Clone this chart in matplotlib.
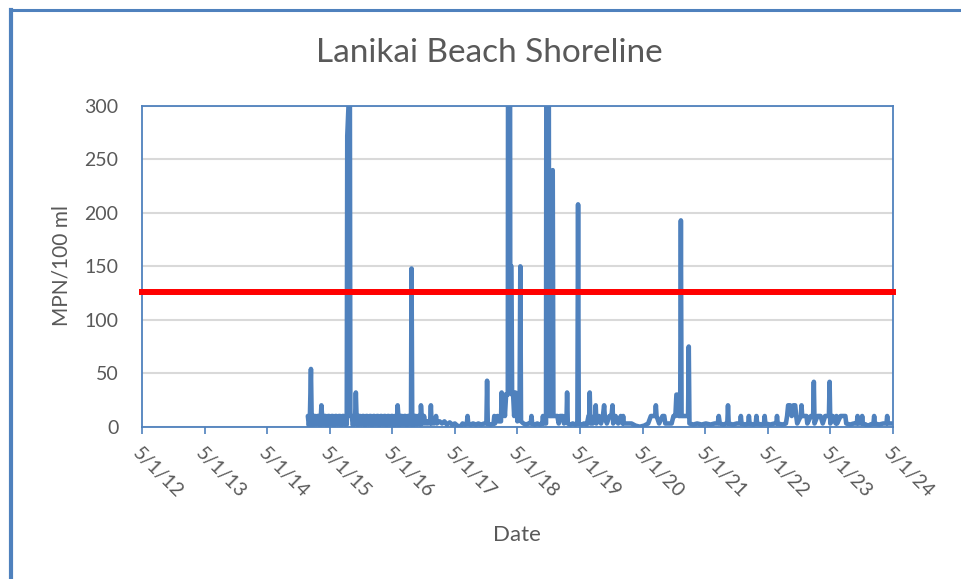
import matplotlib
matplotlib.use("Agg")
import matplotlib.pyplot as plt
import pandas as pd
from matplotlib.lines import Line2D

plt.rcParams['font.family'] = ['Lato', 'DejaVu Sans']

title = "Lanikai Beach Shoreline"
x_label = "Date"
y_label = "MPN/100 ml"
threshold = 126

tick_dates = ["2012-05-01", "2013-05-01", "2014-05-01", "2015-05-01", "2016-05-01",
              "2017-05-01", "2018-05-01", "2019-05-01", "2020-05-01", "2021-05-01",
              "2022-05-01", "2023-05-01", "2024-05-01"]
tick_labels = ["5/1/12", "5/1/13", "5/1/14", "5/1/15", "5/1/16", "5/1/17", "5/1/18",
               "5/1/19", "5/1/20", "5/1/21", "5/1/22", "5/1/23", "5/1/24"]
y_ticks = [0, 50, 100, 150, 200, 250, 300]

dates_2015 = ["2014-12-25", "2014-12-31", "2015-01-06", "2015-01-12", "2015-01-16", "2015-01-22",
              "2015-01-29", "2015-02-05", "2015-02-12", "2015-02-19", "2015-02-26", "2015-03-05",
              "2015-03-11", "2015-03-14", "2015-03-18", "2015-03-25", "2015-04-01", "2015-04-08",
              "2015-04-15", "2015-04-22", "2015-04-29", "2015-05-06", "2015-05-13", "2015-05-20",
              "2015-05-27", "2015-06-03", "2015-06-10", "2015-06-17", "2015-06-24", "2015-07-01",
              "2015-07-08", "2015-07-15", "2015-07-22", "2015-07-29", "2015-08-05", "2015-08-09",
              "2015-08-12", "2015-08-27", "2015-08-30", "2015-09-07", "2015-09-14", "2015-09-21",
              "2015-09-27", "2015-10-01", "2015-10-05", "2015-10-12", "2015-10-19", "2015-10-26",
              "2015-11-02", "2015-11-09", "2015-11-16", "2015-11-23", "2015-11-30", "2015-12-07",
              "2015-12-14", "2015-12-21", "2015-12-28"]
values_2015 = [10, 1, 10, 54, 10, 1,
               10, 10, 2, 10, 10, 1,
               10, 20, 10, 2, 10, 10,
               1, 10, 10, 2, 10, 10,
               1, 10, 10, 2, 10, 10,
               1, 10, 10, 2, 10, 2,
               272, 330, 10, 10, 1, 10,
               10, 32, 10, 1, 10, 10,
               2, 10, 10, 1, 10, 10,
               2, 10, 10]

dates_2016 = ["2016-01-04", "2016-01-11", "2016-01-18", "2016-01-25", "2016-02-01", "2016-02-08",
              "2016-02-15", "2016-02-22", "2016-02-29", "2016-03-07", "2016-03-14", "2016-03-21",
              "2016-03-28", "2016-04-04", "2016-04-11", "2016-04-18", "2016-04-25", "2016-05-02",
              "2016-05-09", "2016-05-16", "2016-05-23", "2016-05-28", "2016-06-01", "2016-06-05",
              "2016-06-12", "2016-06-19", "2016-06-26", "2016-07-03", "2016-07-10", "2016-07-17",
              "2016-07-24", "2016-07-31", "2016-08-07", "2016-08-14", "2016-08-18", "2016-08-21",
              "2016-08-25", "2016-09-01", "2016-09-08", "2016-09-15", "2016-09-22", "2016-09-29",
              "2016-10-06", "2016-10-12", "2016-10-15", "2016-10-19", "2016-10-26", "2016-11-02",
              "2016-11-09", "2016-11-16", "2016-11-23", "2016-11-30", "2016-12-07", "2016-12-12",
              "2016-12-16", "2016-12-23", "2016-12-30"]
values_2016 = [1, 10, 10, 2, 10, 10,
               1, 10, 10, 2, 10, 10,
               1, 10, 10, 2, 10, 10,
               1, 10, 10, 2, 20, 10,
               1, 10, 10, 2, 10, 10,
               1, 10, 10, 2, 10, 148,
               10, 1, 10, 10, 2, 10,
               10, 2, 20, 10, 3, 10,
               3, 5, 3, 5, 3, 20,
               3, 5, 3]

dates_2017 = ["2017-01-06", "2017-01-11", "2017-01-16", "2017-02-01", "2017-02-15", "2017-03-01",
              "2017-03-15", "2017-04-01", "2017-04-15", "2017-05-01", "2017-05-15", "2017-06-02",
              "2017-06-15", "2017-07-01", "2017-07-10", "2017-07-14", "2017-07-18", "2017-08-01",
              "2017-08-15", "2017-09-01", "2017-09-15", "2017-10-01", "2017-10-20", "2017-11-01",
              "2017-11-05", "2017-11-09", "2017-11-25", "2017-12-13", "2017-12-17", "2017-12-21"]
values_2017 = [5, 10, 3, 5, 3, 5,
               2, 4, 2, 3, 1, 0,
               3, 2, 3, 10, 3, 2,
               3, 2, 3, 2, 3, 3,
               43, 3, 2, 3, 10, 3]

dates_2018 = ["2018-01-05", "2018-01-12", "2018-01-25", "2018-01-29", "2018-02-03", "2018-02-10",
              "2018-02-17", "2018-02-24", "2018-03-03", "2018-03-06", "2018-03-10", "2018-03-16",
              "2018-03-20", "2018-03-27", "2018-03-31", "2018-04-06", "2018-04-12", "2018-04-19",
              "2018-04-24", "2018-05-01", "2018-05-10", "2018-05-14", "2018-05-18", "2018-05-22",
              "2018-06-05", "2018-06-20", "2018-07-05", "2018-07-18", "2018-07-22", "2018-07-26",
              "2018-08-10", "2018-08-25", "2018-09-10", "2018-09-23", "2018-09-27", "2018-10-01",
              "2018-10-15", "2018-10-20", "2018-10-28", "2018-11-02", "2018-11-12", "2018-11-20",
              "2018-11-23", "2018-11-27", "2018-12-05", "2018-12-12", "2018-12-20", "2018-12-28"]
values_2018 = [10, 5, 5, 32, 10, 30,
               10, 30, 30, 30, 900, 900,
               150, 150, 30, 30, 10, 32,
               30, 5, 30, 30, 150, 5,
               3, 2, 3, 3, 10, 3,
               2, 3, 2, 3, 10, 3,
               3, 900, 900, 10, 10, 10,
               240, 10, 10, 10, 10, 3]

dates_2019 = ["2019-01-05", "2019-01-12", "2019-01-20", "2019-01-28", "2019-02-08", "2019-02-12",
              "2019-02-15", "2019-02-19", "2019-03-05", "2019-03-20", "2019-04-05", "2019-04-16",
              "2019-04-20", "2019-04-24", "2019-05-10", "2019-05-25", "2019-06-10", "2019-06-20",
              "2019-06-24", "2019-06-27", "2019-07-01", "2019-07-15", "2019-07-25", "2019-07-29",
              "2019-08-01", "2019-08-05", "2019-08-20", "2019-09-01", "2019-09-12", "2019-09-19",
              "2019-09-23", "2019-10-05", "2019-10-20", "2019-11-01", "2019-11-07", "2019-11-11",
              "2019-11-25", "2019-12-10", "2019-12-25"]
values_2019 = [10, 10, 10, 3, 10, 10,
               32, 3, 2, 3, 2, 3,
               208, 3, 2, 3, 2, 10,
               10, 32, 3, 3, 10, 10,
               20, 3, 10, 3, 10, 20,
               10, 3, 10, 10, 20, 3,
               10, 3, 10]

dates_2020 = ["2020-01-04", "2020-01-08", "2020-01-12", "2020-02-01", "2020-02-26", "2020-03-20",
              "2020-04-14", "2020-05-10", "2020-06-02", "2020-06-18", "2020-06-22", "2020-07-13",
              "2020-07-17", "2020-07-21", "2020-08-05", "2020-08-25", "2020-09-04", "2020-09-10",
              "2020-10-01", "2020-10-17", "2020-10-28", "2020-11-08", "2020-11-14", "2020-11-20",
              "2020-11-28", "2020-12-06", "2020-12-10", "2020-12-14", "2020-12-28"]
values_2020 = [3, 10, 3, 3, 3, 1,
               0, 1, 3, 10, 10, 10,
               20, 10, 3, 10, 10, 3,
               3, 3, 10, 10, 30, 30,
               10, 10, 193, 10, 10]

dates_2021 = ["2021-01-10", "2021-01-21", "2021-01-25", "2021-01-29", "2021-02-20", "2021-03-15",
              "2021-04-10", "2021-05-05", "2021-06-01", "2021-06-25", "2021-07-13", "2021-07-19",
              "2021-07-25", "2021-08-15", "2021-09-01", "2021-09-07", "2021-09-11", "2021-09-15",
              "2021-10-10", "2021-11-01", "2021-11-21", "2021-11-25", "2021-11-29", "2021-12-20"]
values_2021 = [10, 10, 75, 3, 2, 3,
               2, 3, 2, 3, 3, 10,
               3, 2, 3, 3, 20, 3,
               2, 3, 3, 10, 3, 2]

dates_2022 = ["2022-01-07", "2022-01-11", "2022-01-15", "2022-02-05", "2022-02-20", "2022-02-24",
              "2022-02-28", "2022-03-25", "2022-04-09", "2022-04-13", "2022-04-17", "2022-05-15",
              "2022-06-10", "2022-06-20", "2022-06-24", "2022-06-28", "2022-07-25", "2022-08-15",
              "2022-08-22", "2022-08-28", "2022-09-08", "2022-09-18", "2022-09-28", "2022-10-08",
              "2022-10-14", "2022-10-20", "2022-11-10", "2022-11-14", "2022-11-18", "2022-12-08",
              "2022-12-13", "2022-12-18"]
values_2022 = [3, 10, 3, 2, 3, 10,
               3, 2, 3, 10, 3, 2,
               3, 3, 10, 3, 2, 3,
               10, 20, 20, 10, 20, 20,
               10, 3, 10, 20, 10, 10,
               10, 3]

dates_2023 = ["2023-01-08", "2023-01-21", "2023-01-25", "2023-01-29", "2023-02-15", "2023-03-05",
              "2023-03-18", "2023-04-01", "2023-04-15", "2023-04-23", "2023-04-27", "2023-05-01",
              "2023-05-15", "2023-06-02", "2023-06-06", "2023-06-10", "2023-06-30", "2023-07-14",
              "2023-07-21", "2023-07-28", "2023-08-02", "2023-08-25", "2023-09-15", "2023-10-03",
              "2023-10-07", "2023-10-11", "2023-10-30", "2023-11-03", "2023-11-07", "2023-11-25",
              "2023-12-07", "2023-12-20"]
values_2023 = [10, 10, 42, 3, 10, 10,
               3, 10, 10, 10, 42, 3,
               10, 3, 10, 3, 10, 10,
               10, 10, 3, 2, 3, 3,
               10, 3, 3, 10, 3, 2,
               0, 2]

dates_2024 = ["2024-01-08", "2024-01-12", "2024-01-16", "2024-02-10", "2024-03-05", "2024-03-24",
              "2024-03-28", "2024-04-01", "2024-04-23"]
values_2024 = [3, 10, 3, 2, 3, 3,
               10, 3, 3]

all_dates = (dates_2015 + dates_2016 + dates_2017 + dates_2018 + dates_2019 +
             dates_2020 + dates_2021 + dates_2022 + dates_2023 + dates_2024)
all_values = (values_2015 + values_2016 + values_2017 + values_2018 + values_2019 +
              values_2020 + values_2021 + values_2022 + values_2023 + values_2024)

series = pd.Series(all_values, index=pd.to_datetime(all_dates)).sort_index()
ticks = pd.to_datetime(tick_dates)

blue = "#4F81BD"
text_col = "#595959"

fig = plt.figure(figsize=(9.61, 5.79), dpi=100)
ax = fig.add_axes([142 / 961, (579 - 426.7) / 579, 751 / 961, 320.7 / 579])

ax.set_xlim(ticks[0], ticks[-1])
ax.set_ylim(y_ticks[0], y_ticks[-1])
ax.set_yticks(y_ticks)
ax.set_xticks(ticks)
ax.set_xticklabels(tick_labels, rotation=-45, ha="left", va="top",
                   rotation_mode="anchor")
ax.grid(axis="y", color="#D9D9D9", linewidth=1.5, zorder=0)
ax.set_axisbelow(True)

for s in ax.spines.values():
    s.set_color(blue)
    s.set_linewidth(1.3)

ax.tick_params(axis="x", colors=blue, length=5, width=1.2, pad=8,
               labelcolor=text_col, labelsize=14)
ax.tick_params(axis="y", length=0, pad=17, labelcolor=text_col, labelsize=14)

ax.plot(series.index, series.values, color=blue, linewidth=3.3,
        solid_joinstyle="round", solid_capstyle="round", zorder=3)
ax.plot([ticks[0], ticks[-1]], [threshold, threshold], color="#FF0000",
        linewidth=4.3, solid_capstyle="projecting", clip_on=False, zorder=4)

fig.text(489 / 961, 1 - 53 / 579, title, ha="center", va="center",
         fontsize=24, color=text_col)
fig.text(517 / 961, 1 - 535 / 579, x_label, ha="center", va="center",
         fontsize=16, color=text_col)
fig.text(62 / 961, 1 - 266 / 579, y_label, ha="center", va="center",
         rotation=90, fontsize=15, color=text_col)

fig.add_artist(Line2D([11 / 961, 11 / 961], [0, 1 - 10 / 579], color=blue,
                      linewidth=3, transform=fig.transFigure))
fig.add_artist(Line2D([11 / 961, 1], [1 - 10 / 579, 1 - 10 / 579], color=blue,
                      linewidth=2.2, transform=fig.transFigure))

fig.savefig("out.png", dpi=100)
